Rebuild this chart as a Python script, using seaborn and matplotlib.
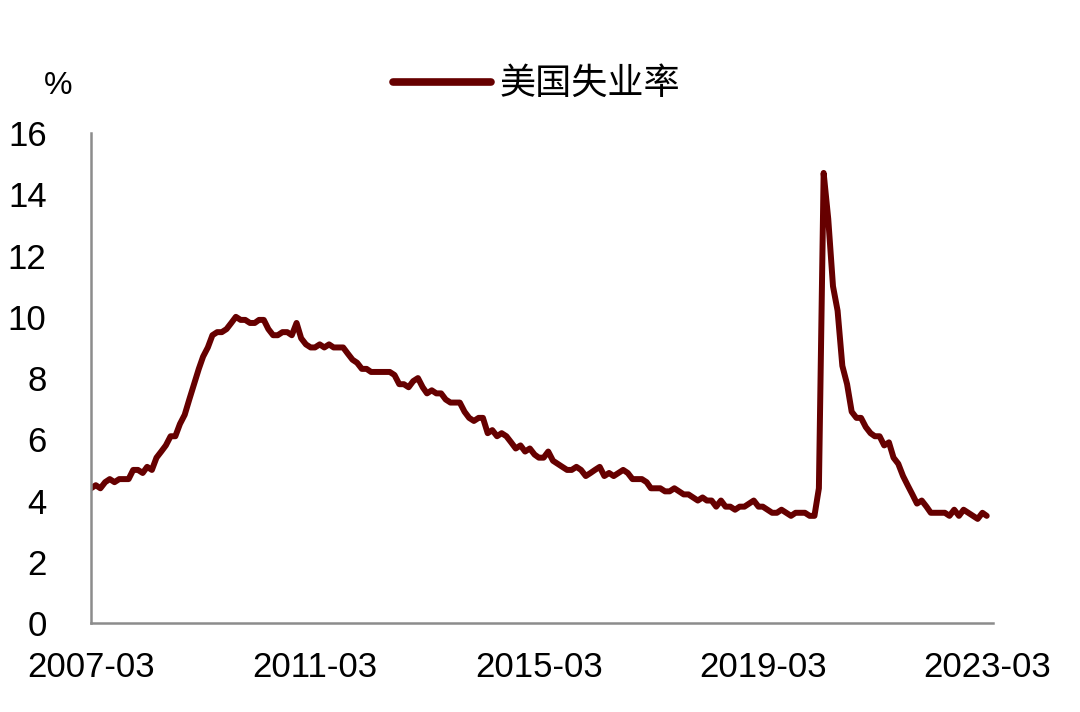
import matplotlib
matplotlib.use("Agg")
import matplotlib.pyplot as plt
import seaborn as sns
import pandas as pd

# monthly US unemployment rate, 2007-03 .. 2023-03 (%)
start_month = "2007-03"
rate_2007 = [4.4, 4.5, 4.4, 4.6, 4.7, 4.6, 4.7, 4.7, 4.7, 5.0]
rate_2008 = [5.0, 4.9, 5.1, 5.0, 5.4, 5.6, 5.8, 6.1, 6.1, 6.5, 6.8, 7.3]
rate_2009 = [7.8, 8.3, 8.7, 9.0, 9.4, 9.5, 9.5, 9.6, 9.8, 10.0, 9.9, 9.9]
rate_2010 = [9.8, 9.8, 9.9, 9.9, 9.6, 9.4, 9.4, 9.5, 9.5, 9.4, 9.8, 9.3]
rate_2011 = [9.1, 9.0, 9.0, 9.1, 9.0, 9.1, 9.0, 9.0, 9.0, 8.8, 8.6, 8.5]
rate_2012 = [8.3, 8.3, 8.2, 8.2, 8.2, 8.2, 8.2, 8.1, 7.8, 7.8, 7.7, 7.9]
rate_2013 = [8.0, 7.7, 7.5, 7.6, 7.5, 7.5, 7.3, 7.2, 7.2, 7.2, 6.9, 6.7]
rate_2014 = [6.6, 6.7, 6.7, 6.2, 6.3, 6.1, 6.2, 6.1, 5.9, 5.7, 5.8, 5.6]
rate_2015 = [5.7, 5.5, 5.4, 5.4, 5.6, 5.3, 5.2, 5.1, 5.0, 5.0, 5.1, 5.0]
rate_2016 = [4.8, 4.9, 5.0, 5.1, 4.8, 4.9, 4.8, 4.9, 5.0, 4.9, 4.7, 4.7]
rate_2017 = [4.7, 4.6, 4.4, 4.4, 4.4, 4.3, 4.3, 4.4, 4.3, 4.2, 4.2, 4.1]
rate_2018 = [4.0, 4.1, 4.0, 4.0, 3.8, 4.0, 3.8, 3.8, 3.7, 3.8, 3.8, 3.9]
rate_2019 = [4.0, 3.8, 3.8, 3.7, 3.6, 3.6, 3.7, 3.6, 3.5, 3.6, 3.6, 3.6]
rate_2020 = [3.5, 3.5, 4.4, 14.7, 13.2, 11.0, 10.2, 8.4, 7.8, 6.9, 6.7, 6.7]
rate_2021 = [6.4, 6.2, 6.1, 6.1, 5.8, 5.9, 5.4, 5.2, 4.8, 4.5, 4.2, 3.9]
rate_2022 = [4.0, 3.8, 3.6, 3.6, 3.6, 3.6, 3.5, 3.7, 3.5, 3.7, 3.6, 3.5]
rate_2023 = [3.4, 3.6, 3.5]

rates = (rate_2007 + rate_2008 + rate_2009 + rate_2010 + rate_2011 + rate_2012
         + rate_2013 + rate_2014 + rate_2015 + rate_2016 + rate_2017 + rate_2018
         + rate_2019 + rate_2020 + rate_2021 + rate_2022 + rate_2023)
months = pd.date_range(start_month, periods=len(rates), freq="MS")
df = pd.DataFrame({"month": months, "rate": rates})

tick_labels = ["2007-03", "2011-03", "2015-03", "2019-03", "2023-03"]
y_ticks = [0, 2, 4, 6, 8, 10, 12, 14, 16]

sns.set_style("white")
plt.rcParams['font.family'] = ['Liberation Sans', 'Noto Sans CJK SC', 'DejaVu Sans']
plt.rcParams['text.color'] = 'black'
plt.rcParams['xtick.labelcolor'] = 'black'
plt.rcParams['ytick.labelcolor'] = 'black'

line_color = '#660000'
axis_grey = '#8c8c8c'

fig = plt.figure(figsize=(10.8, 7.12), dpi=100)
ax = fig.add_axes([0.0843, 0.125, 0.835, 0.688])

sns.lineplot(data=df, x="month", y="rate", ax=ax, color=line_color,
             linewidth=4.3, label="美国失业率",
             solid_joinstyle='round', solid_capstyle='round')

ax.set_xlim(pd.Timestamp("2007-03-01"), pd.Timestamp("2023-04-10"))
ax.set_ylim(0, 16)
ax.set_yticks(y_ticks)
ax.set_xticks([pd.Timestamp(t + "-01") for t in tick_labels])
ax.set_xticklabels(tick_labels)
ax.set_xlabel("")
ax.set_ylabel("")

for side in ["top", "right"]:
    ax.spines[side].set_visible(False)
for side in ["left", "bottom"]:
    ax.spines[side].set_color(axis_grey)
    ax.spines[side].set_linewidth(1.8)

ax.tick_params(axis='x', direction='in', length=7, width=1.8, color=axis_grey,
               labelsize=25, pad=20)
ax.tick_params(axis='y', length=0, labelsize=25, pad=32)

ax.text(-0.037, 1.065, "%", transform=ax.transAxes, fontsize=23,
        ha='center', va='bottom')

leg = ax.legend(loc='center', bbox_to_anchor=(0.497, 0.881),
                bbox_transform=fig.transFigure, frameon=False, fontsize=26,
                handlelength=2.7, handletextpad=0.25)
for h in leg.get_lines():
    h.set_linewidth(5.5)
    h.set_solid_capstyle('round')

fig.savefig("out.png", dpi=100)
